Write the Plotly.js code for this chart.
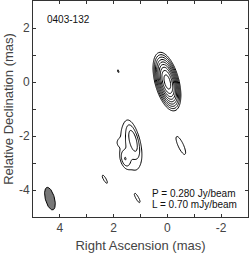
<!DOCTYPE html>
<html>
<head>
<meta charset="utf-8">
<script src="https://cdn.plot.ly/plotly-3.0.1.min.js"></script>
<style>html,body{margin:0;padding:0;background:#fff;}#chart{width:249px;height:254px;}</style>
</head>
<body>
<div id="chart"></div>
<script>
// Source model components (mJy/beam peak, RA mas, Dec mas, sigma major, sigma minor, PA deg)
const compPeak  = [250, 30, 1.7, 3.5, 2.2, 0.8, 0.85, 1.3, 0.9, 0.9];
const compRA    = [0.0, 0.02, 1.36, 1.27, 1.58, 1.78, 1.83, -0.50, 2.33, 1.12];
const compDec   = [0.0, 0.02, -2.40, -2.15, -2.85, -2.25, 0.40, -2.35, -3.60, -4.30];
const compMaj   = [0.28, 0.40, 0.66, 0.32, 0.20, 0.10, 0.10, 0.33, 0.25, 0.27];
const compMin   = [0.11, 0.16, 0.25, 0.10, 0.10, 0.08, 0.04, 0.09, 0.07, 0.07];
const compPA    = [15, 15, 12, 15, 15, 0, 20, 25, 30, 30];

// Contour levels: lowest L = 0.70 mJy/beam, doubling; peak P = 0.280 Jy/beam
const lowestLevel = 0.70;
const peakLabel = "P = 0.280 Jy/beam";
const lowLabel = "L = 0.70 mJy/beam";
const sourceName = "0403-132";

// Restoring beam
const beamRA = [4.37], beamDec = [-4.32], beamMaj = [0.43], beamMin = [0.17], beamPA = [15];

// Axis ticks
const xTickVals = [5,4,3,2,1,0,-1,-2,-3];
const xTickText = ['','4','','2','','0','','-2',''];
const yTickVals = [3,2,1,0,-1,-2,-3,-4,-5];
const yTickText = ['','2','','0','','-2','','-4',''];

// Build intensity grid from components
const step = 0.04;
const xs = [], ys = [];
for (let v = -3; v <= 5.0001; v += step) xs.push(+v.toFixed(3));
for (let v = -5; v <= 3.0001; v += step) ys.push(+v.toFixed(3));
const z = ys.map(d => xs.map(r => {
  let s = 0;
  for (let i = 0; i < compPeak.length; i++) {
    const pa = compPA[i] * Math.PI / 180;
    const dr = r - compRA[i], dd = d - compDec[i];
    const u = dr * Math.sin(pa) + dd * Math.cos(pa);   // along major axis
    const w = dr * Math.cos(pa) - dd * Math.sin(pa);   // along minor axis
    s += compPeak[i] * Math.exp(-0.5 * (u*u/(compMaj[i]*compMaj[i]) + w*w/(compMin[i]*compMin[i])));
  }
  return Math.log2(Math.max(s, 1e-9) / lowestLevel);
}));

// Beam ellipse outline
const bx = [], by = [];
for (let k = 0; k <= 72; k++) {
  const t = k / 72 * 2 * Math.PI, pa = beamPA[0] * Math.PI / 180;
  const u = beamMaj[0] * Math.cos(t), w = beamMin[0] * Math.sin(t);
  bx.push(beamRA[0] + u * Math.sin(pa) + w * Math.cos(pa));
  by.push(beamDec[0] + u * Math.cos(pa) - w * Math.sin(pa));
}

const traces = [
  {type:'contour', x: xs, y: ys, z: z, showscale:false, hoverinfo:'skip',
   contours:{coloring:'none', start:0, end:8.5, size:1},
   line:{color:'black', width:1, smoothing:1}},
  {type:'scatter', mode:'lines', x: bx, y: by, fill:'toself', fillcolor:'#777777',
   line:{color:'black', width:1}, hoverinfo:'skip', showlegend:false}
];

const axisCommon = {
  showgrid:false, zeroline:false, showline:true, linecolor:'#333', linewidth:1,
  mirror:'allticks', ticks:'inside', ticklen:3, tickcolor:'#333',
  tickfont:{family:'Liberation Sans, Arial, sans-serif', size:12, color:'#444'}
};

const layout = {
  width:249, height:254, margin:{l:33, r:1, t:1, b:37},
  paper_bgcolor:'#fff', plot_bgcolor:'#fff', showlegend:false,
  xaxis: Object.assign({}, axisCommon, {range:[5,-3], tickmode:'array', tickvals:xTickVals, ticktext:xTickText,
    title:{text:'Right Ascension (mas)', font:{family:'Liberation Sans, Arial, sans-serif', size:13, color:'#444'}, standoff:6}}),
  yaxis: Object.assign({}, axisCommon, {range:[-5,3], tickmode:'array', tickvals:yTickVals, ticktext:yTickText,
    title:{text:'Relative Declination (mas)', font:{family:'Liberation Sans, Arial, sans-serif', size:13, color:'#444'}, standoff:2}}),
  annotations:[
    {xref:'paper', yref:'paper', x:0.055, y:0.915, xanchor:'left', yanchor:'middle', showarrow:false,
     text:sourceName, font:{family:'Liberation Sans, Arial, sans-serif', size:10, color:'#111'}},
    {xref:'paper', yref:'paper', x:0.545, y:0.11, xanchor:'left', yanchor:'middle', showarrow:false,
     text:peakLabel, font:{family:'Liberation Sans, Arial, sans-serif', size:10, color:'#111'}},
    {xref:'paper', yref:'paper', x:0.545, y:0.06, xanchor:'left', yanchor:'middle', showarrow:false,
     text:lowLabel, font:{family:'Liberation Sans, Arial, sans-serif', size:10, color:'#111'}}
  ]
};

Plotly.newPlot('chart', traces, layout, {staticPlot:true, displayModeBar:false});
</script>
</body>
</html>
